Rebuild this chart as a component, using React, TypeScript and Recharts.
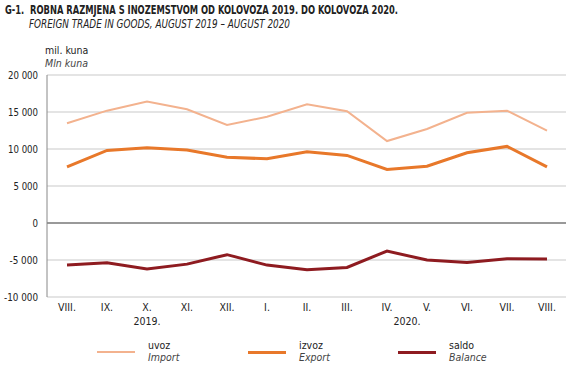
import React from "react";
import { LineChart, Line, XAxis, YAxis, CartesianGrid, ReferenceLine } from "recharts";

const months = ["VIII.", "IX.", "X.", "XI.", "XII.", "I.", "II.", "III.", "IV.", "V.", "VI.", "VII.", "VIII."];
const uvoz = [13470, 15180, 16400, 15370, 13240, 14360, 16040, 15100, 11070, 12700, 14900, 15180, 12470];
const izvoz = [7590, 9810, 10160, 9850, 8900, 8670, 9620, 9130, 7240, 7680, 9490, 10350, 7590];
const saldo = [-5690, -5370, -6230, -5560, -4280, -5690, -6310, -6000, -3790, -5010, -5330, -4820, -4880];
const yTicks = [-10000, -5000, 0, 5000, 10000, 15000, 20000];
const yearLabels: Record<number, { text: string; offset: number }> = {
  2: { text: "2019.", offset: 0 },
  8: { text: "2020.", offset: 20 },
};

const data = months.map((m, i) => ({ m, i, uvoz: uvoz[i], izvoz: izvoz[i], saldo: saldo[i] }));

const FONT = "'DejaVu Sans', sans-serif";
const STRETCH = "condensed";
const C_IMP = "#F3B28E";
const C_EXP = "#E8782A";
const C_BAL = "#8E1B20";

const fmt = (v: number) => {
  const s = Math.abs(v).toString().replace(/\B(?=(\d{3})+(?!\d))/g, " ");
  return (v < 0 ? "-" : "") + s;
};

const labelLen = (s: string) =>
  s.split("").reduce((a, c) => a + (c === " " ? 2.5 : c === "-" ? 4 : 5.5), 0);

const txt = { fontFamily: FONT, fontStretch: STRETCH } as React.CSSProperties;

const XTick = (props: any) => {
  const { x, y, payload, index } = props;
  const yl = yearLabels[index];
  return (
    <g>
      <text x={x} y={y} dy={4} textAnchor="middle" fontSize={10.5} fill="#222" style={txt}>
        {payload.value}
      </text>
      {yl && (
        <text x={x + yl.offset} y={y} dy={18} textAnchor="middle" fontSize={10.5} fill="#222" style={txt}>
          {yl.text}
        </text>
      )}
    </g>
  );
};

const YTick = (props: any) => {
  const { x, y, payload } = props;
  const s = fmt(payload.value);
  return (
    <text x={x} y={y} dy={4} textAnchor="end" fontSize={10.5} fill="#222" style={txt}
      textLength={labelLen(s)} lengthAdjust="spacingAndGlyphs">
      {s}
    </text>
  );
};

const legendItems = [
  { color: C_IMP, w: 2, a: "uvoz", b: "Import", x: 97 },
  { color: C_EXP, w: 3, a: "izvoz", b: "Export", x: 248 },
  { color: C_BAL, w: 3, a: "saldo", b: "Balance", x: 398 },
];

export default function App() {
  return (
    <div style={{ position: "absolute", left: 0, top: 0, width: 573, height: 365, background: "#fff", ...txt }}>
      <svg width={573} height={70} style={{ position: "absolute", left: 0, top: 0 }}>
        <text x={5} y={14} fontSize={12.5} fontWeight="bold" fill="#222" textLength={393} lengthAdjust="spacingAndGlyphs" style={txt}>
          {"G-1.\u00A0\u00A0ROBNA RAZMJENA S INOZEMSTVOM OD KOLOVOZA 2019. DO KOLOVOZA 2020."}
        </text>
        <text x={29} y={28} fontSize={11.5} fontStyle="italic" fill="#222" textLength={261} lengthAdjust="spacingAndGlyphs" style={txt}>
          FOREIGN TRADE IN GOODS, AUGUST 2019 – AUGUST 2020
        </text>
        <text x={45} y={54} fontSize={10.5} fill="#222" style={txt}>mil. kuna</text>
        <text x={45} y={67} fontSize={10.5} fontStyle="italic" fill="#444" style={txt}>Mln kuna</text>
      </svg>
      <div style={{ position: "absolute", left: 0, top: 0 }}>
        <LineChart width={573} height={365} data={data} margin={{ top: 75, right: 7, left: 0, bottom: 28 }}>
          <CartesianGrid horizontal vertical={false} stroke="#c9c9c9" />
          <YAxis
            width={47}
            domain={[-10000, 20000]}
            ticks={yTicks}
            tickLine={false}
            axisLine={{ stroke: "#888" }}
            tick={<YTick />}
            tickMargin={3}
            interval={0}
          />
          <XAxis
            dataKey="m"
            height={40}
            interval={0}
            tickLine={false}
            axisLine={false}
            padding={{ left: 20, right: 19 }}
            tick={<XTick />}
            tickMargin={4}
          />
          <ReferenceLine y={0} stroke="#999" strokeWidth={2} />
          <Line dataKey="uvoz" stroke={C_IMP} strokeWidth={2} dot={false} isAnimationActive={false} />
          <Line dataKey="izvoz" stroke={C_EXP} strokeWidth={3} dot={false} isAnimationActive={false} />
          <Line dataKey="saldo" stroke={C_BAL} strokeWidth={3} dot={false} isAnimationActive={false} />
        </LineChart>
      </div>
      {legendItems.map((l) => (
        <div key={l.a}>
          <div style={{ position: "absolute", left: l.x, top: 352 - l.w / 2, width: 38, height: l.w, background: l.color }} />
          <div style={{ position: "absolute", left: l.x + 51, top: 339, fontSize: 10.5, color: "#222", lineHeight: "12px" }}>{l.a}</div>
          <div style={{ position: "absolute", left: l.x + 51, top: 351, fontSize: 10.5, fontStyle: "italic", color: "#444", lineHeight: "12px" }}>{l.b}</div>
        </div>
      ))}
    </div>
  );
}
